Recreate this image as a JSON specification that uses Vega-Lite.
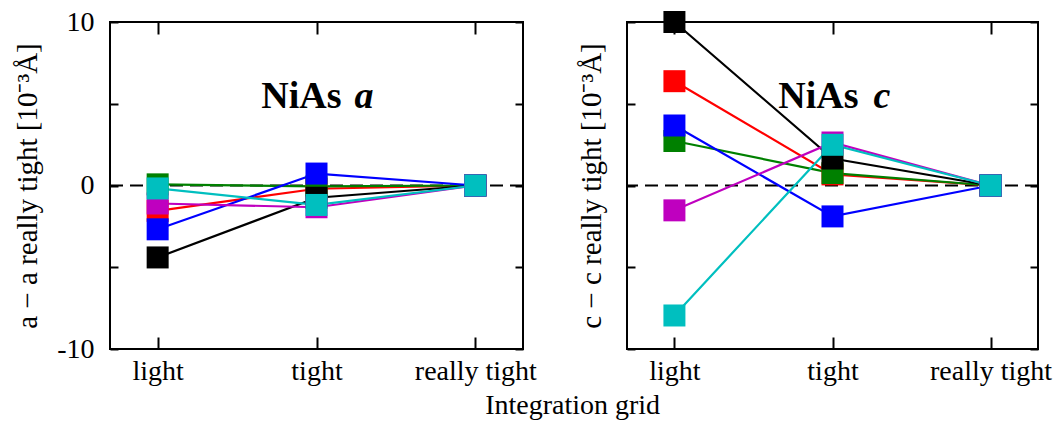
{
  "$schema": "https://vega.github.io/schema/vega-lite/v6.json",
  "padding": {"left": 12, "top": 7, "right": 0, "bottom": 0},
  "background": "white",
  "config": {
    "font": "Liberation Serif",
    "view": {"stroke": "black", "strokeWidth": 2},
    "axis": {
      "domain": false,
      "grid": false,
      "tickColor": "black",
      "tickWidth": 2,
      "labelColor": "black",
      "labelFont": "Liberation Serif",
      "labelFontSize": 28,
      "titleFont": "Liberation Serif",
      "titleFontSize": 29,
      "titleFontWeight": "normal",
      "titleColor": "black"
    }
  },
  "datasets": {
    "convergence": [
      {"param": "a", "series": "A", "grid": "light", "delta": -1.55},
      {"param": "a", "series": "A", "grid": "tight", "delta": -0.2},
      {"param": "a", "series": "A", "grid": "really tight", "delta": 0},
      {"param": "a", "series": "B", "grid": "light", "delta": 0.07},
      {"param": "a", "series": "B", "grid": "tight", "delta": -0.05},
      {"param": "a", "series": "B", "grid": "really tight", "delta": 0},
      {"param": "a", "series": "C", "grid": "light", "delta": -4.4},
      {"param": "a", "series": "C", "grid": "tight", "delta": -0.75},
      {"param": "a", "series": "C", "grid": "really tight", "delta": 0},
      {"param": "a", "series": "D", "grid": "light", "delta": -2.68},
      {"param": "a", "series": "D", "grid": "tight", "delta": 0.73},
      {"param": "a", "series": "D", "grid": "really tight", "delta": 0},
      {"param": "a", "series": "E", "grid": "light", "delta": -1.1},
      {"param": "a", "series": "E", "grid": "tight", "delta": -1.33},
      {"param": "a", "series": "E", "grid": "really tight", "delta": 0},
      {"param": "a", "series": "F", "grid": "light", "delta": -0.18},
      {"param": "a", "series": "F", "grid": "tight", "delta": -1.19},
      {"param": "a", "series": "F", "grid": "really tight", "delta": 0},
      {"param": "c", "series": "A", "grid": "light", "delta": 6.38},
      {"param": "c", "series": "A", "grid": "tight", "delta": 0.68},
      {"param": "c", "series": "A", "grid": "really tight", "delta": 0},
      {"param": "c", "series": "B", "grid": "light", "delta": 2.72},
      {"param": "c", "series": "B", "grid": "tight", "delta": 0.76},
      {"param": "c", "series": "B", "grid": "really tight", "delta": 0},
      {"param": "c", "series": "C", "grid": "light", "delta": 10.0},
      {"param": "c", "series": "C", "grid": "tight", "delta": 1.65},
      {"param": "c", "series": "C", "grid": "really tight", "delta": 0},
      {"param": "c", "series": "D", "grid": "light", "delta": 3.67},
      {"param": "c", "series": "D", "grid": "tight", "delta": -1.89},
      {"param": "c", "series": "D", "grid": "really tight", "delta": 0},
      {"param": "c", "series": "E", "grid": "light", "delta": -1.52},
      {"param": "c", "series": "E", "grid": "tight", "delta": 2.63},
      {"param": "c", "series": "E", "grid": "really tight", "delta": 0},
      {"param": "c", "series": "F", "grid": "light", "delta": -7.95},
      {"param": "c", "series": "F", "grid": "tight", "delta": 2.49},
      {"param": "c", "series": "F", "grid": "really tight", "delta": 0}
    ]
  },
  "spacing": 38,
  "title": {
    "text": "Integration grid",
    "orient": "bottom",
    "anchor": "middle",
    "font": "Liberation Serif",
    "fontSize": 28,
    "fontWeight": "normal",
    "color": "black",
    "offset": 6,
    "dx": 40
  },
  "hconcat": [
    {
      "width": 413,
      "height": 327,
      "data": {"name": "convergence"},
      "transform": [{"filter": "datum.param === 'a'"}],
      "layer": [
        {
          "data": {"values": [{}]},
          "mark": {"type": "rule", "color": "black", "strokeWidth": 2, "strokeDash": [13, 7]},
          "encoding": {
            "y": {
              "datum": 0, "type": "quantitative",
              "scale": {"domain": [-10, 10], "nice": false, "zero": false},
              "axis": {
                "orient": "left", "values": [-10, -5, 0, 5, 10], "tickSize": -8, "labelPadding": 24,
                "labelExpr": "datum.value === 10 ? '10' : datum.value === 0 ? '0' : datum.value === -10 ? '-10' : ''",
                "title": "a − a really tight [10⁻³Å]", "titlePadding": 14
              }
            }
          }
        },
        {
          "mark": {"type": "line", "strokeWidth": 2.2, "clip": false},
          "encoding": {
            "x": {
              "field": "grid", "type": "ordinal", "sort": ["light", "tight", "really tight"],
              "scale": {"type": "point", "padding": 0.3},
              "axis": {"orient": "bottom", "tickSize": -12, "labelPadding": 20, "labelAngle": 0, "title": null}
            },
            "y": {"field": "delta", "type": "quantitative", "axis": null},
            "color": {
              "field": "series", "type": "nominal", "legend": null,
              "scale": {"domain": ["A", "B", "C", "D", "E", "F"], "range": ["#ff0000", "#008000", "#000000", "#0000ff", "#bf00bf", "#00bfbf"]}
            },
            "order": {"value": null}
          }
        },
        {
          "mark": {"type": "point", "shape": "square", "filled": true, "size": 484, "opacity": 1, "strokeWidth": 0, "clip": false},
          "encoding": {
            "x": {
              "field": "grid", "type": "ordinal", "sort": ["light", "tight", "really tight"],
              "axis": {"orient": "top", "tickSize": -12, "labels": false, "title": null}
            },
            "y": {
              "field": "delta", "type": "quantitative",
              "axis": {"orient": "right", "values": [-10, -5, 0, 5, 10], "tickSize": -8, "labels": false, "title": null}
            },
            "color": {"field": "series", "type": "nominal", "legend": null}
          }
        },
        {
          "data": {"values": [{}]},
          "mark": {"type": "text", "text": "NiAs", "align": "right", "baseline": "alphabetic", "dx": 25, "fontSize": 38, "fontWeight": "bold", "color": "black"},
          "encoding": {
            "x": {"datum": "tight", "type": "ordinal", "axis": null},
            "y": {"datum": 4.75, "type": "quantitative", "axis": null}
          }
        },
        {
          "data": {"values": [{}]},
          "mark": {"type": "text", "text": "a", "align": "left", "baseline": "alphabetic", "dx": 38, "fontSize": 38, "fontWeight": "bold", "fontStyle": "italic", "color": "black"},
          "encoding": {
            "x": {"datum": "tight", "type": "ordinal", "axis": null},
            "y": {"datum": 4.75, "type": "quantitative", "axis": null}
          }
        }
      ],
      "resolve": {"axis": {"x": "independent", "y": "independent"}}
    },
    {
      "width": 411,
      "height": 327,
      "data": {"name": "convergence"},
      "transform": [{"filter": "datum.param === 'c'"}],
      "layer": [
        {
          "data": {"values": [{}]},
          "mark": {"type": "rule", "color": "black", "strokeWidth": 2, "strokeDash": [13, 7]},
          "encoding": {
            "y": {
              "datum": 0, "type": "quantitative",
              "scale": {"domain": [-10, 10], "nice": false, "zero": false},
              "axis": {
                "orient": "left", "values": [-10, -5, 0, 5, 10], "tickSize": -8, "labels": false,
                "title": "c − c really tight [10⁻³Å]", "titlePadding": 20
              }
            }
          }
        },
        {
          "mark": {"type": "line", "strokeWidth": 2.2, "clip": false},
          "encoding": {
            "x": {
              "field": "grid", "type": "ordinal", "sort": ["light", "tight", "really tight"],
              "scale": {"type": "point", "padding": 0.3},
              "axis": {"orient": "bottom", "tickSize": -12, "labelPadding": 20, "labelAngle": 0, "title": null}
            },
            "y": {"field": "delta", "type": "quantitative", "axis": null},
            "color": {
              "field": "series", "type": "nominal", "legend": null,
              "scale": {"domain": ["A", "B", "C", "D", "E", "F"], "range": ["#ff0000", "#008000", "#000000", "#0000ff", "#bf00bf", "#00bfbf"]}
            },
            "order": {"value": null}
          }
        },
        {
          "mark": {"type": "point", "shape": "square", "filled": true, "size": 484, "opacity": 1, "strokeWidth": 0, "clip": false},
          "encoding": {
            "x": {
              "field": "grid", "type": "ordinal", "sort": ["light", "tight", "really tight"],
              "axis": {"orient": "top", "tickSize": -12, "labels": false, "title": null}
            },
            "y": {
              "field": "delta", "type": "quantitative",
              "axis": {"orient": "right", "values": [-10, -5, 0, 5, 10], "tickSize": -8, "labels": false, "title": null}
            },
            "color": {"field": "series", "type": "nominal", "legend": null}
          }
        },
        {
          "data": {"values": [{}]},
          "mark": {"type": "text", "text": "NiAs", "align": "right", "baseline": "alphabetic", "dx": 26, "fontSize": 38, "fontWeight": "bold", "color": "black"},
          "encoding": {
            "x": {"datum": "tight", "type": "ordinal", "axis": null},
            "y": {"datum": 4.75, "type": "quantitative", "axis": null}
          }
        },
        {
          "data": {"values": [{}]},
          "mark": {"type": "text", "text": "c", "align": "left", "baseline": "alphabetic", "dx": 41, "fontSize": 38, "fontWeight": "bold", "fontStyle": "italic", "color": "black"},
          "encoding": {
            "x": {"datum": "tight", "type": "ordinal", "axis": null},
            "y": {"datum": 4.75, "type": "quantitative", "axis": null}
          }
        }
      ],
      "resolve": {"axis": {"x": "independent", "y": "independent"}}
    }
  ]
}
